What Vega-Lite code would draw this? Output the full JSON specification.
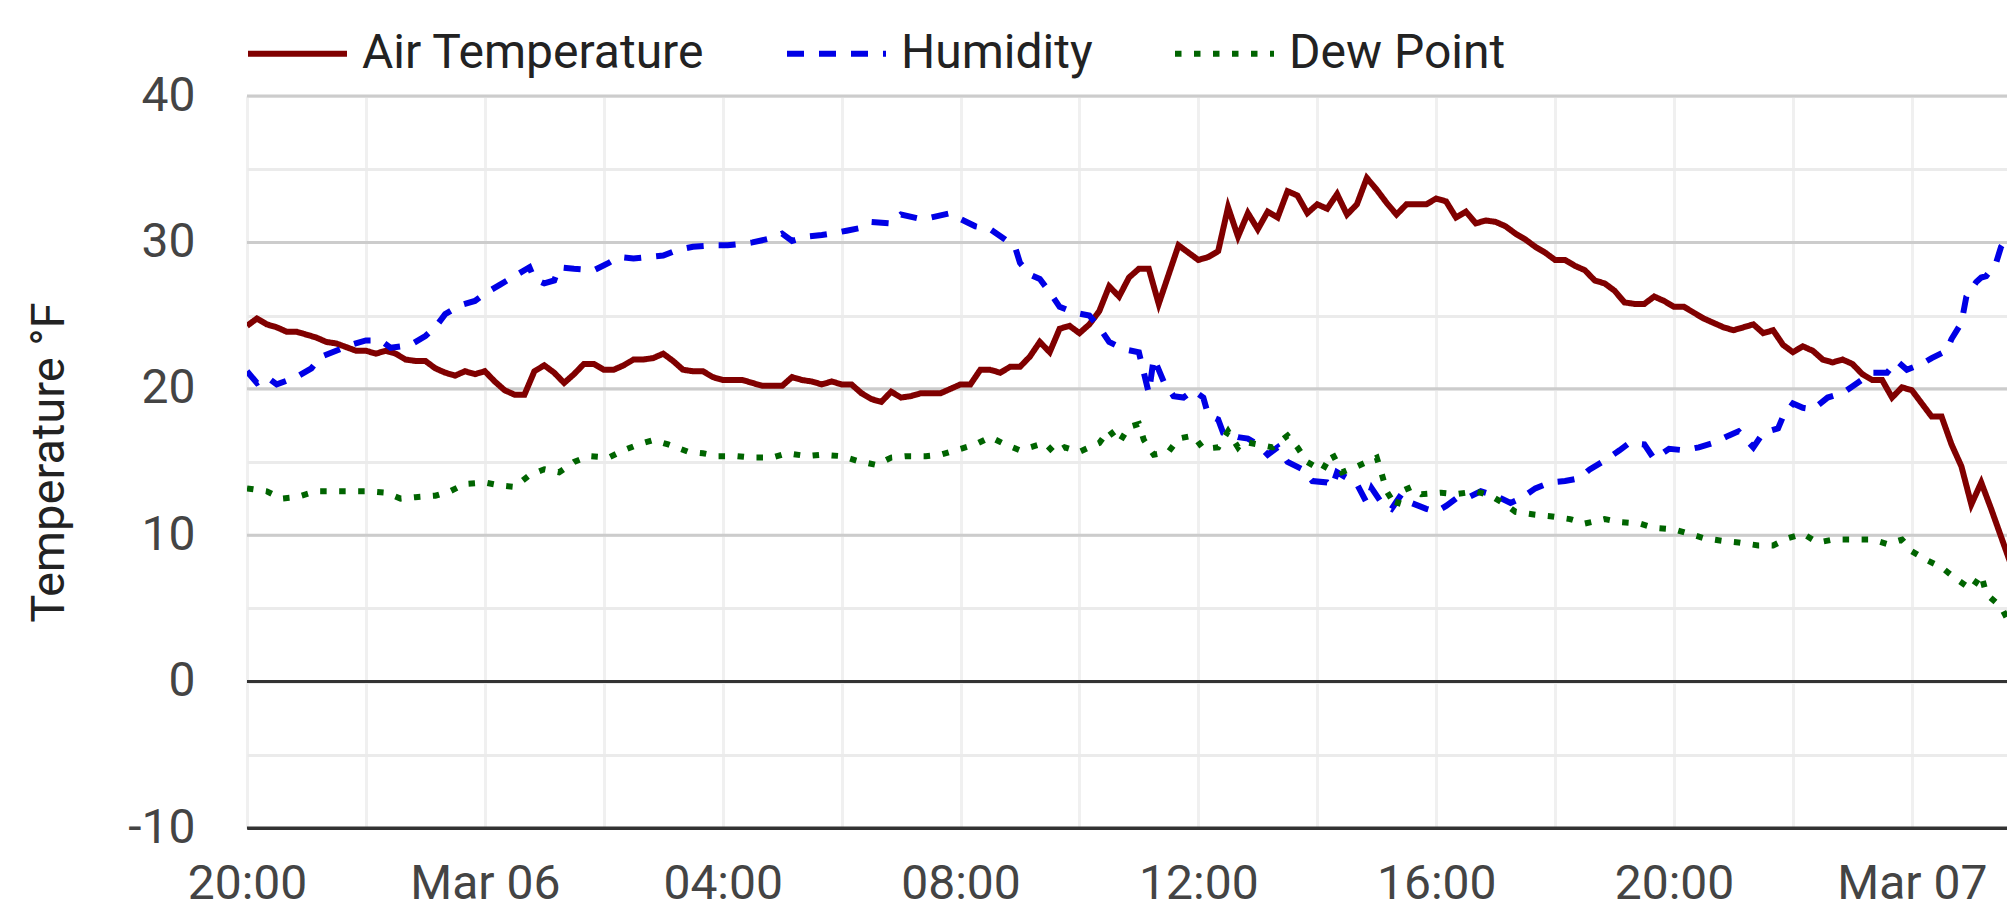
{
  "$schema": "https://vega.github.io/schema/vega-lite/v6.json",
  "width": 1760,
  "height": 732,
  "autosize": {"type": "none"},
  "padding": {"left": 247, "top": 96, "right": 0, "bottom": 84},
  "background": "white",
  "config": {"view": {"stroke": null}, "font": "Roboto"},
  "encoding": {
    "x": {
      "field": "t",
      "type": "temporal",
      "scale": {"domain": [
        {"year": 2024, "month": 3, "date": 5, "hours": 20},
        {"year": 2024, "month": 3, "date": 7, "hours": 1, "minutes": 36}
      ]},
      "axis": {
        "title": null,
        "values": [
          {"year": 2024, "month": 3, "date": 5, "hours": 20},
          {"year": 2024, "month": 3, "date": 5, "hours": 22},
          {"year": 2024, "month": 3, "date": 6, "hours": 0},
          {"year": 2024, "month": 3, "date": 6, "hours": 2},
          {"year": 2024, "month": 3, "date": 6, "hours": 4},
          {"year": 2024, "month": 3, "date": 6, "hours": 6},
          {"year": 2024, "month": 3, "date": 6, "hours": 8},
          {"year": 2024, "month": 3, "date": 6, "hours": 10},
          {"year": 2024, "month": 3, "date": 6, "hours": 12},
          {"year": 2024, "month": 3, "date": 6, "hours": 14},
          {"year": 2024, "month": 3, "date": 6, "hours": 16},
          {"year": 2024, "month": 3, "date": 6, "hours": 18},
          {"year": 2024, "month": 3, "date": 6, "hours": 20},
          {"year": 2024, "month": 3, "date": 6, "hours": 22},
          {"year": 2024, "month": 3, "date": 7, "hours": 0}
        ],
        "labelExpr": "hours(datum.value) % 4 !== 0 ? '' : (hours(datum.value) === 0 ? timeFormat(datum.value, '%b %d') : timeFormat(datum.value, '%H:%M'))",
        "labelOverlap": false,
        "labelFlush": false,
        "ticks": false,
        "domainColor": "#333333",
        "domainWidth": 3,
        "gridColor": "#f0f0f0",
        "gridWidth": 3,
        "labelFontSize": 48,
        "labelColor": "#444444",
        "labelBaseline": "alphabetic",
        "labelPadding": 70
      }
    },
    "y": {
      "field": "v",
      "type": "quantitative",
      "scale": {"domain": [-10, 40], "nice": false},
      "axis": {
        "title": "Temperature °F",
        "values": [-10, -5, 0, 5, 10, 15, 20, 25, 30, 35, 40],
        "labelExpr": "datum.value % 10 === 0 ? '' + datum.value : ''",
        "labelOverlap": false,
        "ticks": false,
        "domain": false,
        "gridWidth": 3,
        "gridColor": "#ebebeb",
        "labelFontSize": 48,
        "labelColor": "#444444",
        "labelPadding": 52,
        "titleFontSize": 47,
        "titleFontWeight": "normal",
        "titleColor": "#222222",
        "titleX": -184,
        "titleY": 366,
        "titleBaseline": "alphabetic"
      }
    }
  },
  "layer": [
    {
      "data": {"values": [{"v": -10}, {"v": 0}, {"v": 10}, {"v": 20}, {"v": 30}, {"v": 40}]},
      "mark": {"type": "rule", "strokeWidth": 3},
      "encoding": {
        "x": null,
        "color": {"condition": {"test": "datum.v === 0 || datum.v === -10", "value": "#333333"}, "value": "#cccccc"}
      }
    },
    {
      "data": {"values": [
        {"t":"2024-03-05T20:00","s":"Air Temperature","v":24.3},
        {"t":"2024-03-05T20:10","s":"Air Temperature","v":24.8},
        {"t":"2024-03-05T20:20","s":"Air Temperature","v":24.4},
        {"t":"2024-03-05T20:30","s":"Air Temperature","v":24.2},
        {"t":"2024-03-05T20:40","s":"Air Temperature","v":23.9},
        {"t":"2024-03-05T20:50","s":"Air Temperature","v":23.9},
        {"t":"2024-03-05T21:10","s":"Air Temperature","v":23.5},
        {"t":"2024-03-05T21:20","s":"Air Temperature","v":23.2},
        {"t":"2024-03-05T21:30","s":"Air Temperature","v":23.1},
        {"t":"2024-03-05T21:50","s":"Air Temperature","v":22.6},
        {"t":"2024-03-05T22:00","s":"Air Temperature","v":22.6},
        {"t":"2024-03-05T22:10","s":"Air Temperature","v":22.4},
        {"t":"2024-03-05T22:20","s":"Air Temperature","v":22.6},
        {"t":"2024-03-05T22:30","s":"Air Temperature","v":22.4},
        {"t":"2024-03-05T22:40","s":"Air Temperature","v":22.0},
        {"t":"2024-03-05T22:50","s":"Air Temperature","v":21.9},
        {"t":"2024-03-05T23:00","s":"Air Temperature","v":21.9},
        {"t":"2024-03-05T23:10","s":"Air Temperature","v":21.4},
        {"t":"2024-03-05T23:20","s":"Air Temperature","v":21.1},
        {"t":"2024-03-05T23:30","s":"Air Temperature","v":20.9},
        {"t":"2024-03-05T23:40","s":"Air Temperature","v":21.2},
        {"t":"2024-03-05T23:50","s":"Air Temperature","v":21.0},
        {"t":"2024-03-06T00:00","s":"Air Temperature","v":21.2},
        {"t":"2024-03-06T00:10","s":"Air Temperature","v":20.5},
        {"t":"2024-03-06T00:20","s":"Air Temperature","v":19.9},
        {"t":"2024-03-06T00:30","s":"Air Temperature","v":19.6},
        {"t":"2024-03-06T00:40","s":"Air Temperature","v":19.6},
        {"t":"2024-03-06T00:50","s":"Air Temperature","v":21.2},
        {"t":"2024-03-06T01:00","s":"Air Temperature","v":21.6},
        {"t":"2024-03-06T01:10","s":"Air Temperature","v":21.1},
        {"t":"2024-03-06T01:20","s":"Air Temperature","v":20.4},
        {"t":"2024-03-06T01:30","s":"Air Temperature","v":21.0},
        {"t":"2024-03-06T01:40","s":"Air Temperature","v":21.7},
        {"t":"2024-03-06T01:50","s":"Air Temperature","v":21.7},
        {"t":"2024-03-06T02:00","s":"Air Temperature","v":21.3},
        {"t":"2024-03-06T02:10","s":"Air Temperature","v":21.3},
        {"t":"2024-03-06T02:20","s":"Air Temperature","v":21.6},
        {"t":"2024-03-06T02:30","s":"Air Temperature","v":22.0},
        {"t":"2024-03-06T02:40","s":"Air Temperature","v":22.0},
        {"t":"2024-03-06T02:50","s":"Air Temperature","v":22.1},
        {"t":"2024-03-06T03:00","s":"Air Temperature","v":22.4},
        {"t":"2024-03-06T03:10","s":"Air Temperature","v":21.9},
        {"t":"2024-03-06T03:20","s":"Air Temperature","v":21.3},
        {"t":"2024-03-06T03:30","s":"Air Temperature","v":21.2},
        {"t":"2024-03-06T03:40","s":"Air Temperature","v":21.2},
        {"t":"2024-03-06T03:50","s":"Air Temperature","v":20.8},
        {"t":"2024-03-06T04:00","s":"Air Temperature","v":20.6},
        {"t":"2024-03-06T04:10","s":"Air Temperature","v":20.6},
        {"t":"2024-03-06T04:20","s":"Air Temperature","v":20.6},
        {"t":"2024-03-06T04:30","s":"Air Temperature","v":20.4},
        {"t":"2024-03-06T04:40","s":"Air Temperature","v":20.2},
        {"t":"2024-03-06T04:50","s":"Air Temperature","v":20.2},
        {"t":"2024-03-06T05:00","s":"Air Temperature","v":20.2},
        {"t":"2024-03-06T05:10","s":"Air Temperature","v":20.8},
        {"t":"2024-03-06T05:20","s":"Air Temperature","v":20.6},
        {"t":"2024-03-06T05:30","s":"Air Temperature","v":20.5},
        {"t":"2024-03-06T05:40","s":"Air Temperature","v":20.3},
        {"t":"2024-03-06T05:50","s":"Air Temperature","v":20.5},
        {"t":"2024-03-06T06:00","s":"Air Temperature","v":20.3},
        {"t":"2024-03-06T06:10","s":"Air Temperature","v":20.3},
        {"t":"2024-03-06T06:20","s":"Air Temperature","v":19.7},
        {"t":"2024-03-06T06:30","s":"Air Temperature","v":19.3},
        {"t":"2024-03-06T06:40","s":"Air Temperature","v":19.1},
        {"t":"2024-03-06T06:50","s":"Air Temperature","v":19.8},
        {"t":"2024-03-06T07:00","s":"Air Temperature","v":19.4},
        {"t":"2024-03-06T07:10","s":"Air Temperature","v":19.5},
        {"t":"2024-03-06T07:20","s":"Air Temperature","v":19.7},
        {"t":"2024-03-06T07:30","s":"Air Temperature","v":19.7},
        {"t":"2024-03-06T07:40","s":"Air Temperature","v":19.7},
        {"t":"2024-03-06T07:50","s":"Air Temperature","v":20.0},
        {"t":"2024-03-06T08:00","s":"Air Temperature","v":20.3},
        {"t":"2024-03-06T08:10","s":"Air Temperature","v":20.3},
        {"t":"2024-03-06T08:20","s":"Air Temperature","v":21.3},
        {"t":"2024-03-06T08:30","s":"Air Temperature","v":21.3},
        {"t":"2024-03-06T08:40","s":"Air Temperature","v":21.1},
        {"t":"2024-03-06T08:50","s":"Air Temperature","v":21.5},
        {"t":"2024-03-06T09:00","s":"Air Temperature","v":21.5},
        {"t":"2024-03-06T09:10","s":"Air Temperature","v":22.2},
        {"t":"2024-03-06T09:20","s":"Air Temperature","v":23.2},
        {"t":"2024-03-06T09:30","s":"Air Temperature","v":22.5},
        {"t":"2024-03-06T09:40","s":"Air Temperature","v":24.1},
        {"t":"2024-03-06T09:50","s":"Air Temperature","v":24.3},
        {"t":"2024-03-06T10:00","s":"Air Temperature","v":23.8},
        {"t":"2024-03-06T10:10","s":"Air Temperature","v":24.4},
        {"t":"2024-03-06T10:20","s":"Air Temperature","v":25.3},
        {"t":"2024-03-06T10:30","s":"Air Temperature","v":27.0},
        {"t":"2024-03-06T10:40","s":"Air Temperature","v":26.3},
        {"t":"2024-03-06T10:50","s":"Air Temperature","v":27.6},
        {"t":"2024-03-06T11:00","s":"Air Temperature","v":28.2},
        {"t":"2024-03-06T11:10","s":"Air Temperature","v":28.2},
        {"t":"2024-03-06T11:20","s":"Air Temperature","v":25.8},
        {"t":"2024-03-06T11:30","s":"Air Temperature","v":27.8},
        {"t":"2024-03-06T11:40","s":"Air Temperature","v":29.8},
        {"t":"2024-03-06T11:50","s":"Air Temperature","v":29.3},
        {"t":"2024-03-06T12:00","s":"Air Temperature","v":28.8},
        {"t":"2024-03-06T12:10","s":"Air Temperature","v":29.0},
        {"t":"2024-03-06T12:20","s":"Air Temperature","v":29.4},
        {"t":"2024-03-06T12:30","s":"Air Temperature","v":32.4},
        {"t":"2024-03-06T12:40","s":"Air Temperature","v":30.4},
        {"t":"2024-03-06T12:50","s":"Air Temperature","v":32.0},
        {"t":"2024-03-06T13:00","s":"Air Temperature","v":30.9},
        {"t":"2024-03-06T13:10","s":"Air Temperature","v":32.1},
        {"t":"2024-03-06T13:20","s":"Air Temperature","v":31.7},
        {"t":"2024-03-06T13:30","s":"Air Temperature","v":33.5},
        {"t":"2024-03-06T13:40","s":"Air Temperature","v":33.2},
        {"t":"2024-03-06T13:50","s":"Air Temperature","v":32.0},
        {"t":"2024-03-06T14:00","s":"Air Temperature","v":32.6},
        {"t":"2024-03-06T14:10","s":"Air Temperature","v":32.3},
        {"t":"2024-03-06T14:20","s":"Air Temperature","v":33.3},
        {"t":"2024-03-06T14:30","s":"Air Temperature","v":31.9},
        {"t":"2024-03-06T14:40","s":"Air Temperature","v":32.6},
        {"t":"2024-03-06T14:50","s":"Air Temperature","v":34.4},
        {"t":"2024-03-06T15:00","s":"Air Temperature","v":33.6},
        {"t":"2024-03-06T15:10","s":"Air Temperature","v":32.7},
        {"t":"2024-03-06T15:20","s":"Air Temperature","v":31.9},
        {"t":"2024-03-06T15:30","s":"Air Temperature","v":32.6},
        {"t":"2024-03-06T15:40","s":"Air Temperature","v":32.6},
        {"t":"2024-03-06T15:50","s":"Air Temperature","v":32.6},
        {"t":"2024-03-06T16:00","s":"Air Temperature","v":33.0},
        {"t":"2024-03-06T16:10","s":"Air Temperature","v":32.8},
        {"t":"2024-03-06T16:20","s":"Air Temperature","v":31.7},
        {"t":"2024-03-06T16:30","s":"Air Temperature","v":32.1},
        {"t":"2024-03-06T16:40","s":"Air Temperature","v":31.3},
        {"t":"2024-03-06T16:50","s":"Air Temperature","v":31.5},
        {"t":"2024-03-06T17:00","s":"Air Temperature","v":31.4},
        {"t":"2024-03-06T17:10","s":"Air Temperature","v":31.1},
        {"t":"2024-03-06T17:20","s":"Air Temperature","v":30.6},
        {"t":"2024-03-06T17:30","s":"Air Temperature","v":30.2},
        {"t":"2024-03-06T17:40","s":"Air Temperature","v":29.7},
        {"t":"2024-03-06T17:50","s":"Air Temperature","v":29.3},
        {"t":"2024-03-06T18:00","s":"Air Temperature","v":28.8},
        {"t":"2024-03-06T18:10","s":"Air Temperature","v":28.8},
        {"t":"2024-03-06T18:20","s":"Air Temperature","v":28.4},
        {"t":"2024-03-06T18:30","s":"Air Temperature","v":28.1},
        {"t":"2024-03-06T18:40","s":"Air Temperature","v":27.4},
        {"t":"2024-03-06T18:50","s":"Air Temperature","v":27.2},
        {"t":"2024-03-06T19:00","s":"Air Temperature","v":26.7},
        {"t":"2024-03-06T19:10","s":"Air Temperature","v":25.9},
        {"t":"2024-03-06T19:20","s":"Air Temperature","v":25.8},
        {"t":"2024-03-06T19:30","s":"Air Temperature","v":25.8},
        {"t":"2024-03-06T19:40","s":"Air Temperature","v":26.3},
        {"t":"2024-03-06T19:50","s":"Air Temperature","v":26.0},
        {"t":"2024-03-06T20:00","s":"Air Temperature","v":25.6},
        {"t":"2024-03-06T20:10","s":"Air Temperature","v":25.6},
        {"t":"2024-03-06T20:20","s":"Air Temperature","v":25.2},
        {"t":"2024-03-06T20:30","s":"Air Temperature","v":24.8},
        {"t":"2024-03-06T20:40","s":"Air Temperature","v":24.5},
        {"t":"2024-03-06T20:50","s":"Air Temperature","v":24.2},
        {"t":"2024-03-06T21:00","s":"Air Temperature","v":24.0},
        {"t":"2024-03-06T21:10","s":"Air Temperature","v":24.2},
        {"t":"2024-03-06T21:20","s":"Air Temperature","v":24.4},
        {"t":"2024-03-06T21:30","s":"Air Temperature","v":23.8},
        {"t":"2024-03-06T21:40","s":"Air Temperature","v":24.0},
        {"t":"2024-03-06T21:50","s":"Air Temperature","v":23.0},
        {"t":"2024-03-06T22:00","s":"Air Temperature","v":22.5},
        {"t":"2024-03-06T22:10","s":"Air Temperature","v":22.9},
        {"t":"2024-03-06T22:20","s":"Air Temperature","v":22.6},
        {"t":"2024-03-06T22:30","s":"Air Temperature","v":22.0},
        {"t":"2024-03-06T22:40","s":"Air Temperature","v":21.8},
        {"t":"2024-03-06T22:50","s":"Air Temperature","v":22.0},
        {"t":"2024-03-06T23:00","s":"Air Temperature","v":21.7},
        {"t":"2024-03-06T23:10","s":"Air Temperature","v":21.0},
        {"t":"2024-03-06T23:20","s":"Air Temperature","v":20.6},
        {"t":"2024-03-06T23:30","s":"Air Temperature","v":20.6},
        {"t":"2024-03-06T23:40","s":"Air Temperature","v":19.4},
        {"t":"2024-03-06T23:50","s":"Air Temperature","v":20.1},
        {"t":"2024-03-07T00:00","s":"Air Temperature","v":19.9},
        {"t":"2024-03-07T00:10","s":"Air Temperature","v":19.0},
        {"t":"2024-03-07T00:20","s":"Air Temperature","v":18.1},
        {"t":"2024-03-07T00:30","s":"Air Temperature","v":18.1},
        {"t":"2024-03-07T00:40","s":"Air Temperature","v":16.2},
        {"t":"2024-03-07T00:50","s":"Air Temperature","v":14.7},
        {"t":"2024-03-07T01:00","s":"Air Temperature","v":12.1},
        {"t":"2024-03-07T01:10","s":"Air Temperature","v":13.6},
        {"t":"2024-03-07T01:20","s":"Air Temperature","v":11.8},
        {"t":"2024-03-07T01:30","s":"Air Temperature","v":9.9},
        {"t":"2024-03-07T01:40","s":"Air Temperature","v":8.0},

        {"t":"2024-03-05T20:00","s":"Humidity","v":21.2},
        {"t":"2024-03-05T20:10","s":"Humidity","v":20.4},
        {"t":"2024-03-05T20:20","s":"Humidity","v":20.8},
        {"t":"2024-03-05T20:30","s":"Humidity","v":20.3},
        {"t":"2024-03-05T20:50","s":"Humidity","v":20.8},
        {"t":"2024-03-05T21:05","s":"Humidity","v":21.4},
        {"t":"2024-03-05T21:15","s":"Humidity","v":22.2},
        {"t":"2024-03-05T21:30","s":"Humidity","v":22.6},
        {"t":"2024-03-05T21:45","s":"Humidity","v":23.0},
        {"t":"2024-03-05T22:00","s":"Humidity","v":23.3},
        {"t":"2024-03-05T22:15","s":"Humidity","v":23.3},
        {"t":"2024-03-05T22:25","s":"Humidity","v":22.8},
        {"t":"2024-03-05T22:45","s":"Humidity","v":23.0},
        {"t":"2024-03-05T23:00","s":"Humidity","v":23.6},
        {"t":"2024-03-05T23:10","s":"Humidity","v":24.2},
        {"t":"2024-03-05T23:20","s":"Humidity","v":25.1},
        {"t":"2024-03-05T23:35","s":"Humidity","v":25.7},
        {"t":"2024-03-05T23:50","s":"Humidity","v":26.0},
        {"t":"2024-03-06T00:00","s":"Humidity","v":26.5},
        {"t":"2024-03-06T00:15","s":"Humidity","v":27.1},
        {"t":"2024-03-06T00:30","s":"Humidity","v":27.7},
        {"t":"2024-03-06T00:45","s":"Humidity","v":28.3},
        {"t":"2024-03-06T00:50","s":"Humidity","v":27.5},
        {"t":"2024-03-06T01:00","s":"Humidity","v":27.2},
        {"t":"2024-03-06T01:10","s":"Humidity","v":27.4},
        {"t":"2024-03-06T01:15","s":"Humidity","v":28.3},
        {"t":"2024-03-06T01:30","s":"Humidity","v":28.2},
        {"t":"2024-03-06T01:50","s":"Humidity","v":28.1},
        {"t":"2024-03-06T02:05","s":"Humidity","v":28.6},
        {"t":"2024-03-06T02:15","s":"Humidity","v":29.0},
        {"t":"2024-03-06T02:30","s":"Humidity","v":28.9},
        {"t":"2024-03-06T02:45","s":"Humidity","v":29.0},
        {"t":"2024-03-06T03:00","s":"Humidity","v":29.1},
        {"t":"2024-03-06T03:15","s":"Humidity","v":29.5},
        {"t":"2024-03-06T03:30","s":"Humidity","v":29.7},
        {"t":"2024-03-06T03:50","s":"Humidity","v":29.8},
        {"t":"2024-03-06T04:05","s":"Humidity","v":29.8},
        {"t":"2024-03-06T04:20","s":"Humidity","v":29.9},
        {"t":"2024-03-06T04:30","s":"Humidity","v":30.0},
        {"t":"2024-03-06T04:50","s":"Humidity","v":30.3},
        {"t":"2024-03-06T05:00","s":"Humidity","v":30.6},
        {"t":"2024-03-06T05:10","s":"Humidity","v":30.1},
        {"t":"2024-03-06T05:25","s":"Humidity","v":30.4},
        {"t":"2024-03-06T05:40","s":"Humidity","v":30.5},
        {"t":"2024-03-06T05:50","s":"Humidity","v":30.6},
        {"t":"2024-03-06T06:05","s":"Humidity","v":30.8},
        {"t":"2024-03-06T06:20","s":"Humidity","v":31.0},
        {"t":"2024-03-06T06:30","s":"Humidity","v":31.4},
        {"t":"2024-03-06T06:50","s":"Humidity","v":31.3},
        {"t":"2024-03-06T07:00","s":"Humidity","v":31.9},
        {"t":"2024-03-06T07:20","s":"Humidity","v":31.6},
        {"t":"2024-03-06T07:30","s":"Humidity","v":31.7},
        {"t":"2024-03-06T07:50","s":"Humidity","v":32.0},
        {"t":"2024-03-06T08:00","s":"Humidity","v":31.6},
        {"t":"2024-03-06T08:15","s":"Humidity","v":31.1},
        {"t":"2024-03-06T08:30","s":"Humidity","v":30.9},
        {"t":"2024-03-06T08:45","s":"Humidity","v":30.2},
        {"t":"2024-03-06T08:55","s":"Humidity","v":29.7},
        {"t":"2024-03-06T09:00","s":"Humidity","v":28.6},
        {"t":"2024-03-06T09:10","s":"Humidity","v":27.8},
        {"t":"2024-03-06T09:20","s":"Humidity","v":27.5},
        {"t":"2024-03-06T09:30","s":"Humidity","v":26.6},
        {"t":"2024-03-06T09:40","s":"Humidity","v":25.6},
        {"t":"2024-03-06T09:55","s":"Humidity","v":25.2},
        {"t":"2024-03-06T10:10","s":"Humidity","v":25.0},
        {"t":"2024-03-06T10:20","s":"Humidity","v":24.2},
        {"t":"2024-03-06T10:30","s":"Humidity","v":23.2},
        {"t":"2024-03-06T10:45","s":"Humidity","v":22.7},
        {"t":"2024-03-06T11:00","s":"Humidity","v":22.5},
        {"t":"2024-03-06T11:10","s":"Humidity","v":19.7},
        {"t":"2024-03-06T11:15","s":"Humidity","v":22.1},
        {"t":"2024-03-06T11:25","s":"Humidity","v":20.5},
        {"t":"2024-03-06T11:35","s":"Humidity","v":19.5},
        {"t":"2024-03-06T11:45","s":"Humidity","v":19.4},
        {"t":"2024-03-06T11:55","s":"Humidity","v":19.9},
        {"t":"2024-03-06T12:05","s":"Humidity","v":19.4},
        {"t":"2024-03-06T12:10","s":"Humidity","v":18.2},
        {"t":"2024-03-06T12:20","s":"Humidity","v":17.9},
        {"t":"2024-03-06T12:25","s":"Humidity","v":17.0},
        {"t":"2024-03-06T12:40","s":"Humidity","v":16.7},
        {"t":"2024-03-06T12:50","s":"Humidity","v":16.6},
        {"t":"2024-03-06T13:00","s":"Humidity","v":16.2},
        {"t":"2024-03-06T13:10","s":"Humidity","v":15.5},
        {"t":"2024-03-06T13:20","s":"Humidity","v":16.0},
        {"t":"2024-03-06T13:30","s":"Humidity","v":15.0},
        {"t":"2024-03-06T13:45","s":"Humidity","v":14.5},
        {"t":"2024-03-06T13:55","s":"Humidity","v":13.7},
        {"t":"2024-03-06T14:10","s":"Humidity","v":13.6},
        {"t":"2024-03-06T14:15","s":"Humidity","v":13.3},
        {"t":"2024-03-06T14:20","s":"Humidity","v":14.3},
        {"t":"2024-03-06T14:30","s":"Humidity","v":13.9},
        {"t":"2024-03-06T14:40","s":"Humidity","v":13.5},
        {"t":"2024-03-06T14:50","s":"Humidity","v":12.2},
        {"t":"2024-03-06T14:55","s":"Humidity","v":13.2},
        {"t":"2024-03-06T15:05","s":"Humidity","v":12.2},
        {"t":"2024-03-06T15:15","s":"Humidity","v":11.8},
        {"t":"2024-03-06T15:25","s":"Humidity","v":12.8},
        {"t":"2024-03-06T15:35","s":"Humidity","v":12.2},
        {"t":"2024-03-06T15:50","s":"Humidity","v":11.8},
        {"t":"2024-03-06T16:00","s":"Humidity","v":11.6},
        {"t":"2024-03-06T16:10","s":"Humidity","v":12.0},
        {"t":"2024-03-06T16:20","s":"Humidity","v":12.5},
        {"t":"2024-03-06T16:30","s":"Humidity","v":12.5},
        {"t":"2024-03-06T16:45","s":"Humidity","v":13.0},
        {"t":"2024-03-06T17:00","s":"Humidity","v":12.7},
        {"t":"2024-03-06T17:15","s":"Humidity","v":12.2},
        {"t":"2024-03-06T17:25","s":"Humidity","v":12.5},
        {"t":"2024-03-06T17:40","s":"Humidity","v":13.2},
        {"t":"2024-03-06T17:55","s":"Humidity","v":13.6},
        {"t":"2024-03-06T18:10","s":"Humidity","v":13.7},
        {"t":"2024-03-06T18:25","s":"Humidity","v":13.9},
        {"t":"2024-03-06T18:35","s":"Humidity","v":14.5},
        {"t":"2024-03-06T18:50","s":"Humidity","v":15.1},
        {"t":"2024-03-06T19:05","s":"Humidity","v":15.8},
        {"t":"2024-03-06T19:15","s":"Humidity","v":16.3},
        {"t":"2024-03-06T19:30","s":"Humidity","v":16.2},
        {"t":"2024-03-06T19:40","s":"Humidity","v":15.2},
        {"t":"2024-03-06T19:55","s":"Humidity","v":15.9},
        {"t":"2024-03-06T20:10","s":"Humidity","v":15.8},
        {"t":"2024-03-06T20:25","s":"Humidity","v":16.0},
        {"t":"2024-03-06T20:40","s":"Humidity","v":16.3},
        {"t":"2024-03-06T20:55","s":"Humidity","v":16.8},
        {"t":"2024-03-06T21:05","s":"Humidity","v":17.1},
        {"t":"2024-03-06T21:20","s":"Humidity","v":16.0},
        {"t":"2024-03-06T21:30","s":"Humidity","v":17.0},
        {"t":"2024-03-06T21:45","s":"Humidity","v":17.3},
        {"t":"2024-03-06T21:50","s":"Humidity","v":18.1},
        {"t":"2024-03-06T22:00","s":"Humidity","v":19.0},
        {"t":"2024-03-06T22:10","s":"Humidity","v":18.7},
        {"t":"2024-03-06T22:20","s":"Humidity","v":18.6},
        {"t":"2024-03-06T22:35","s":"Humidity","v":19.4},
        {"t":"2024-03-06T22:50","s":"Humidity","v":19.7},
        {"t":"2024-03-06T23:05","s":"Humidity","v":20.4},
        {"t":"2024-03-06T23:20","s":"Humidity","v":21.1},
        {"t":"2024-03-06T23:35","s":"Humidity","v":21.1},
        {"t":"2024-03-06T23:45","s":"Humidity","v":21.9},
        {"t":"2024-03-06T23:55","s":"Humidity","v":21.3},
        {"t":"2024-03-07T00:10","s":"Humidity","v":21.7},
        {"t":"2024-03-07T00:20","s":"Humidity","v":22.1},
        {"t":"2024-03-07T00:35","s":"Humidity","v":22.6},
        {"t":"2024-03-07T00:40","s":"Humidity","v":23.4},
        {"t":"2024-03-07T00:50","s":"Humidity","v":24.5},
        {"t":"2024-03-07T00:55","s":"Humidity","v":26.3},
        {"t":"2024-03-07T01:05","s":"Humidity","v":27.3},
        {"t":"2024-03-07T01:10","s":"Humidity","v":27.6},
        {"t":"2024-03-07T01:15","s":"Humidity","v":27.7},
        {"t":"2024-03-07T01:25","s":"Humidity","v":28.6},
        {"t":"2024-03-07T01:30","s":"Humidity","v":29.7},
        {"t":"2024-03-07T01:40","s":"Humidity","v":30.7},

        {"t":"2024-03-05T20:00","s":"Dew Point","v":13.2},
        {"t":"2024-03-05T20:20","s":"Dew Point","v":13.0},
        {"t":"2024-03-05T20:35","s":"Dew Point","v":12.5},
        {"t":"2024-03-05T20:50","s":"Dew Point","v":12.6},
        {"t":"2024-03-05T21:10","s":"Dew Point","v":13.0},
        {"t":"2024-03-05T21:25","s":"Dew Point","v":13.0},
        {"t":"2024-03-05T21:45","s":"Dew Point","v":13.0},
        {"t":"2024-03-05T22:00","s":"Dew Point","v":13.0},
        {"t":"2024-03-05T22:20","s":"Dew Point","v":12.9},
        {"t":"2024-03-05T22:35","s":"Dew Point","v":12.5},
        {"t":"2024-03-05T22:50","s":"Dew Point","v":12.6},
        {"t":"2024-03-05T23:10","s":"Dew Point","v":12.7},
        {"t":"2024-03-05T23:25","s":"Dew Point","v":13.0},
        {"t":"2024-03-05T23:40","s":"Dew Point","v":13.5},
        {"t":"2024-03-06T00:00","s":"Dew Point","v":13.6},
        {"t":"2024-03-06T00:15","s":"Dew Point","v":13.4},
        {"t":"2024-03-06T00:30","s":"Dew Point","v":13.3},
        {"t":"2024-03-06T00:45","s":"Dew Point","v":14.1},
        {"t":"2024-03-06T01:00","s":"Dew Point","v":14.5},
        {"t":"2024-03-06T01:15","s":"Dew Point","v":14.3},
        {"t":"2024-03-06T01:30","s":"Dew Point","v":15.0},
        {"t":"2024-03-06T01:45","s":"Dew Point","v":15.4},
        {"t":"2024-03-06T02:05","s":"Dew Point","v":15.3},
        {"t":"2024-03-06T02:20","s":"Dew Point","v":15.8},
        {"t":"2024-03-06T02:35","s":"Dew Point","v":16.2},
        {"t":"2024-03-06T02:50","s":"Dew Point","v":16.5},
        {"t":"2024-03-06T03:05","s":"Dew Point","v":16.2},
        {"t":"2024-03-06T03:25","s":"Dew Point","v":15.7},
        {"t":"2024-03-06T03:40","s":"Dew Point","v":15.6},
        {"t":"2024-03-06T03:55","s":"Dew Point","v":15.4},
        {"t":"2024-03-06T04:15","s":"Dew Point","v":15.4},
        {"t":"2024-03-06T04:30","s":"Dew Point","v":15.3},
        {"t":"2024-03-06T04:50","s":"Dew Point","v":15.3},
        {"t":"2024-03-06T05:05","s":"Dew Point","v":15.6},
        {"t":"2024-03-06T05:25","s":"Dew Point","v":15.4},
        {"t":"2024-03-06T05:40","s":"Dew Point","v":15.5},
        {"t":"2024-03-06T06:00","s":"Dew Point","v":15.4},
        {"t":"2024-03-06T06:15","s":"Dew Point","v":15.1},
        {"t":"2024-03-06T06:35","s":"Dew Point","v":14.8},
        {"t":"2024-03-06T06:50","s":"Dew Point","v":15.3},
        {"t":"2024-03-06T07:05","s":"Dew Point","v":15.4},
        {"t":"2024-03-06T07:25","s":"Dew Point","v":15.4},
        {"t":"2024-03-06T07:40","s":"Dew Point","v":15.5},
        {"t":"2024-03-06T08:00","s":"Dew Point","v":15.9},
        {"t":"2024-03-06T08:15","s":"Dew Point","v":16.2},
        {"t":"2024-03-06T08:30","s":"Dew Point","v":16.7},
        {"t":"2024-03-06T08:45","s":"Dew Point","v":16.2},
        {"t":"2024-03-06T09:00","s":"Dew Point","v":15.8},
        {"t":"2024-03-06T09:15","s":"Dew Point","v":16.1},
        {"t":"2024-03-06T09:25","s":"Dew Point","v":16.3},
        {"t":"2024-03-06T09:35","s":"Dew Point","v":15.6},
        {"t":"2024-03-06T09:45","s":"Dew Point","v":16.0},
        {"t":"2024-03-06T10:00","s":"Dew Point","v":15.7},
        {"t":"2024-03-06T10:20","s":"Dew Point","v":16.3},
        {"t":"2024-03-06T10:30","s":"Dew Point","v":17.2},
        {"t":"2024-03-06T10:40","s":"Dew Point","v":16.3},
        {"t":"2024-03-06T10:50","s":"Dew Point","v":17.4},
        {"t":"2024-03-06T11:00","s":"Dew Point","v":17.6},
        {"t":"2024-03-06T11:05","s":"Dew Point","v":16.5},
        {"t":"2024-03-06T11:15","s":"Dew Point","v":15.5},
        {"t":"2024-03-06T11:30","s":"Dew Point","v":15.7},
        {"t":"2024-03-06T11:40","s":"Dew Point","v":16.6},
        {"t":"2024-03-06T11:55","s":"Dew Point","v":16.8},
        {"t":"2024-03-06T12:05","s":"Dew Point","v":15.9},
        {"t":"2024-03-06T12:20","s":"Dew Point","v":16.0},
        {"t":"2024-03-06T12:30","s":"Dew Point","v":17.1},
        {"t":"2024-03-06T12:40","s":"Dew Point","v":16.0},
        {"t":"2024-03-06T12:45","s":"Dew Point","v":16.4},
        {"t":"2024-03-06T13:00","s":"Dew Point","v":16.2},
        {"t":"2024-03-06T13:15","s":"Dew Point","v":16.0},
        {"t":"2024-03-06T13:30","s":"Dew Point","v":16.8},
        {"t":"2024-03-06T13:40","s":"Dew Point","v":16.0},
        {"t":"2024-03-06T13:50","s":"Dew Point","v":15.0},
        {"t":"2024-03-06T14:05","s":"Dew Point","v":14.4},
        {"t":"2024-03-06T14:15","s":"Dew Point","v":15.6},
        {"t":"2024-03-06T14:25","s":"Dew Point","v":14.3},
        {"t":"2024-03-06T14:40","s":"Dew Point","v":14.7},
        {"t":"2024-03-06T15:00","s":"Dew Point","v":15.3},
        {"t":"2024-03-06T15:05","s":"Dew Point","v":14.2},
        {"t":"2024-03-06T15:10","s":"Dew Point","v":13.0},
        {"t":"2024-03-06T15:20","s":"Dew Point","v":11.9},
        {"t":"2024-03-06T15:25","s":"Dew Point","v":13.0},
        {"t":"2024-03-06T15:35","s":"Dew Point","v":13.3},
        {"t":"2024-03-06T15:45","s":"Dew Point","v":12.8},
        {"t":"2024-03-06T16:05","s":"Dew Point","v":12.9},
        {"t":"2024-03-06T16:20","s":"Dew Point","v":12.8},
        {"t":"2024-03-06T16:40","s":"Dew Point","v":13.0},
        {"t":"2024-03-06T16:55","s":"Dew Point","v":12.7},
        {"t":"2024-03-06T17:10","s":"Dew Point","v":12.1},
        {"t":"2024-03-06T17:20","s":"Dew Point","v":11.6},
        {"t":"2024-03-06T17:40","s":"Dew Point","v":11.4},
        {"t":"2024-03-06T17:55","s":"Dew Point","v":11.3},
        {"t":"2024-03-06T18:15","s":"Dew Point","v":11.1},
        {"t":"2024-03-06T18:30","s":"Dew Point","v":10.8},
        {"t":"2024-03-06T18:50","s":"Dew Point","v":11.1},
        {"t":"2024-03-06T19:05","s":"Dew Point","v":10.9},
        {"t":"2024-03-06T19:25","s":"Dew Point","v":10.8},
        {"t":"2024-03-06T19:40","s":"Dew Point","v":10.5},
        {"t":"2024-03-06T20:00","s":"Dew Point","v":10.4},
        {"t":"2024-03-06T20:15","s":"Dew Point","v":10.1},
        {"t":"2024-03-06T20:30","s":"Dew Point","v":9.8},
        {"t":"2024-03-06T20:50","s":"Dew Point","v":9.6},
        {"t":"2024-03-06T21:05","s":"Dew Point","v":9.5},
        {"t":"2024-03-06T21:25","s":"Dew Point","v":9.3},
        {"t":"2024-03-06T21:40","s":"Dew Point","v":9.3},
        {"t":"2024-03-06T21:55","s":"Dew Point","v":9.8},
        {"t":"2024-03-06T22:10","s":"Dew Point","v":10.1},
        {"t":"2024-03-06T22:25","s":"Dew Point","v":9.5},
        {"t":"2024-03-06T22:40","s":"Dew Point","v":9.7},
        {"t":"2024-03-06T23:00","s":"Dew Point","v":9.7},
        {"t":"2024-03-06T23:20","s":"Dew Point","v":9.7},
        {"t":"2024-03-06T23:35","s":"Dew Point","v":9.4},
        {"t":"2024-03-06T23:50","s":"Dew Point","v":9.7},
        {"t":"2024-03-07T00:00","s":"Dew Point","v":8.9},
        {"t":"2024-03-07T00:15","s":"Dew Point","v":8.3},
        {"t":"2024-03-07T00:30","s":"Dew Point","v":7.8},
        {"t":"2024-03-07T00:45","s":"Dew Point","v":7.0},
        {"t":"2024-03-07T01:00","s":"Dew Point","v":6.3},
        {"t":"2024-03-07T01:10","s":"Dew Point","v":7.3},
        {"t":"2024-03-07T01:15","s":"Dew Point","v":6.0},
        {"t":"2024-03-07T01:30","s":"Dew Point","v":5.1},
        {"t":"2024-03-07T01:40","s":"Dew Point","v":3.8}
      ]},
      "mark": {"type": "line", "strokeWidth": 6, "strokeCap": "butt", "clip": true},
      "encoding": {
        "color": {
          "field": "s",
          "type": "nominal",
          "scale": {"domain": ["Air Temperature", "Humidity", "Dew Point"], "range": ["#800000", "#0000e6", "#006400"]},
          "legend": {
            "title": null,
            "orient": "none",
            "legendX": -2,
            "legendY": -95,
            "direction": "horizontal",
            "symbolType": "stroke",
            "symbolSize": 9800,
            "symbolStrokeWidth": 6,
            "labelFontSize": 48,
            "labelColor": "#222222",
            "labelOffset": 12,
            "labelLimit": 1000,
            "columnPadding": 70
          }
        },
        "strokeDash": {
          "field": "s",
          "type": "nominal",
          "scale": {"domain": ["Air Temperature", "Humidity", "Dew Point"], "range": [[1, 0], [17, 15], [6.5, 12.5]]},
          "legend": {
            "title": null,
            "orient": "none",
            "legendX": -2,
            "legendY": -95,
            "direction": "horizontal",
            "symbolType": "stroke",
            "symbolSize": 9800,
            "symbolStrokeWidth": 6,
            "labelFontSize": 48,
            "labelColor": "#222222",
            "labelOffset": 12,
            "labelLimit": 1000,
            "columnPadding": 70
          }
        }
      }
    }
  ]
}
